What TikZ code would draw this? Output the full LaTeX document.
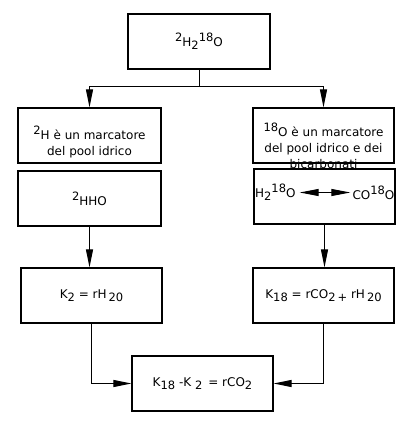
\documentclass[tikz,border=0pt]{standalone}
\usepackage{fontspec}
\setmainfont{DejaVu Sans}
\usepackage{tikz}
\usetikzlibrary{arrows.meta,positioning,calc}
\newcommand{\isoup}[1]{\raisebox{5pt}{\fontsize{11.5}{12}\selectfont #1}}
\newcommand{\isodn}[1]{\raisebox{-3pt}{\fontsize{11.5}{12}\selectfont #1}}

\begin{document}
\begin{tikzpicture}[x=1pt,y=-1pt,>={Triangle[length=18pt,width=7pt]},
  every node/.style={font=\fontsize{12}{16}\selectfont},
  box/.style={draw,line width=1.2pt,minimum width=141pt,minimum height=55pt,inner sep=0pt},
  txt/.style={align=center,inner sep=0pt},
  wire/.style={line width=1pt}]
  \useasboundingbox (0,0) rectangle (410,430);
  % top
  \node[box,minimum width=142pt] (top) at (199,41.5) {\isoup{2}H\isodn{2}\isoup{18}O};
  \coordinate (split) at (199,87);
  % left column
  \node[box,minimum width=143pt] (l1) at (89.5,135.5) {};
  \node[txt] (l1t) at (89.5,141.5) {\isoup{2}H è un marcatore\\del pool idrico};
  \node[box,minimum width=143pt] (l2) at (89.5,198.5) {\raisebox{-3pt}{\isoup{2}HHO}};
  \node[box] (k2) at (91.5,295.5) {\raisebox{-3pt}{K\isodn{2} = rH\,\isodn{20}}};
  % right column
  \node[box] (r1) at (323.5,135.5) {};
  \node[txt] (r1t) at (323.5,146) {\isoup{18}O è un marcatore\\del pool idrico e dei\\bicarbonati};
  \node[box] (r2) at (324.5,196.5) {};
  \node[txt,anchor=west] (h2o) at ($(r2.west)+(1.5,-4)$) {H\isodn{2}\isoup{18}O};
  \node[txt,anchor=east] (co) at ($(r2.east)+(-1,-4)$) {CO\isoup{18}O};
  \node[box] (k18) at (323.5,295.5) {\raisebox{-3pt}{K\isodn{18} = rCO\isodn{2}\,\isodn{+} rH\,\isodn{20}}};
  % result
  \node[box] (diff) at (202.5,383.5) {\raisebox{-1pt}{K\isodn{18} -K \isodn{2}\enspace = rCO\isodn{2}}};
  % connectors
  \draw[wire] (top.south) -- (split);
  \draw[wire,->] (split) -| (l1.north);
  \draw[wire,->] (split) -| (r1.north);
  \draw[wire,{Triangle[length=19pt,width=7pt]}-{Triangle[length=19pt,width=7pt]},shorten <=4pt,shorten >=2pt] (h2o.east) -- (co.west);
  \draw[wire,->] (l2.south) -- (l2.south |- k2.north);
  \draw[wire,->] (r2.south) -- (r2.south |- k18.north);
  \draw[wire,->] (k2.south) |- (diff.west);
  \draw[wire,->] (k18.south) |- (diff.east);
\end{tikzpicture}
\end{document}
